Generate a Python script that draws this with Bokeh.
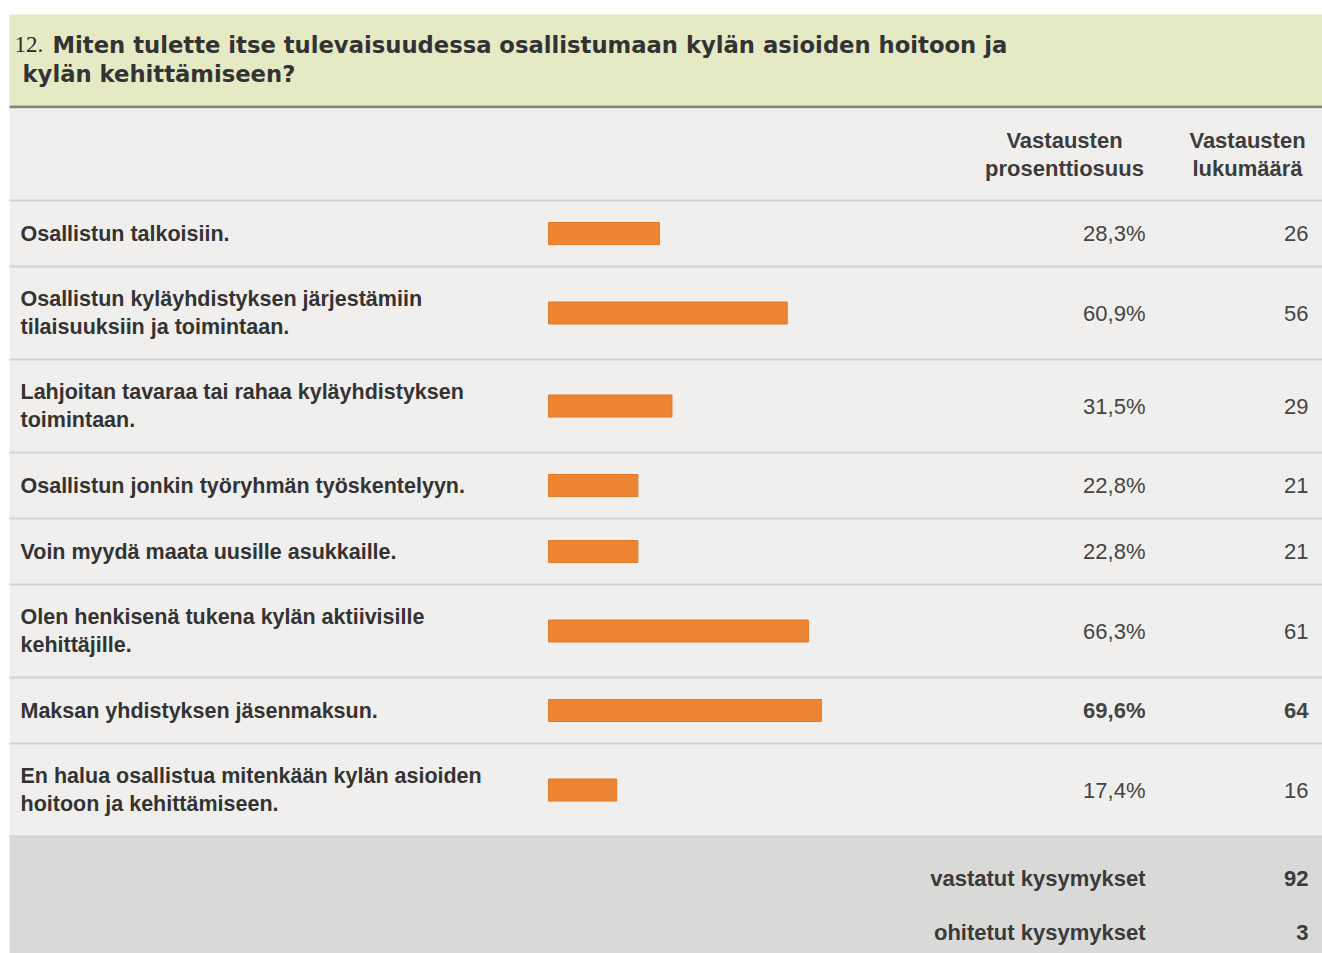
from bokeh.plotting import figure
from bokeh.models import Range1d
from bokeh.embed import file_html
from bokeh.resources import INLINE
from bokeh.core.properties import value

# ---------------- data ----------------
title_number = "12."
title_lines = ["Miten tulette itse tulevaisuudessa osallistumaan kylän asioiden hoitoon ja",
               "kylän kehittämiseen?"]
col_headers = ["Vastausten\nprosenttiosuus", "Vastausten\nlukumäärä"]
labels = [
    "Osallistun talkoisiin.",
    "Osallistun kyläyhdistyksen järjestämiin\ntilaisuuksiin ja toimintaan.",
    "Lahjoitan tavaraa tai rahaa kyläyhdistyksen\ntoimintaan.",
    "Osallistun jonkin työryhmän työskentelyyn.",
    "Voin myydä maata uusille asukkaille.",
    "Olen henkisenä tukena kylän aktiivisille\nkehittäjille.",
    "Maksan yhdistyksen jäsenmaksun.",
    "En halua osallistua mitenkään kylän asioiden\nhoitoon ja kehittämiseen.",
]
percents = [28.3, 60.9, 31.5, 22.8, 22.8, 66.3, 69.6, 17.4]
counts = [26, 56, 29, 21, 21, 61, 64, 16]
footer_labels = ["vastatut kysymykset", "ohitetut kysymykset"]
footer_values = [92, 3]

# ---------------- layout (page pixels) ----------------
W, H = 1322, 953
X0, X1 = 0, W
Y0, Y1 = 0, H
HEAD_TOP, HEAD_BOT = 14, 105
TABLE_TOP = 107
COLHDR_H = 93
ROW_H1, ROW_H2 = 66, 93
BAR_X0 = 548
PX_PER_PCT = 3.92
PCT_RIGHT = 1145
CNT_RIGHT = 1308
LABEL_X = 20
FONT = value("Liberation Sans")

p = figure(width=W, height=H, x_range=Range1d(X0, X1), y_range=Range1d(Y1, Y0),
           output_backend="svg", toolbar_location=None,
           x_axis_location=None, y_axis_location=None,
           min_border=0, outline_line_color=None,
           background_fill_color="white", border_fill_color="white")
p.grid.visible = False
p.extra_x_ranges = {"pct": Range1d(start=(X0 - BAR_X0) / PX_PER_PCT,
                                   end=(X1 - BAR_X0) / PX_PER_PCT)}

# row geometry derived from number of label lines
row_tops, row_bots = [], []
y = TABLE_TOP + COLHDR_H
for lab in labels:
    h = ROW_H2 if "\n" in lab else ROW_H1
    row_tops.append(y)
    row_bots.append(y + h)
    y += h
TABLE_BOT = y
row_mid = [(a + b) / 2 for a, b in zip(row_tops, row_bots)]

# backgrounds
p.quad(left=[9], right=[X1 + 10], top=[HEAD_TOP], bottom=[HEAD_BOT],
       fill_color="#e5eac4", line_color=None)
p.quad(left=[9], right=[X1 + 10], top=[HEAD_BOT], bottom=[TABLE_TOP + 1],
       fill_color="#838674", line_color=None)
p.quad(left=[9], right=[X1 + 10], top=[TABLE_TOP + 1], bottom=[TABLE_BOT],
       fill_color="#f0efee", line_color=None)
p.quad(left=[9], right=[X1 + 10], top=[TABLE_BOT], bottom=[Y1 + 10],
       fill_color="#d9d9d8", line_color=None)

# separators
seps = [TABLE_TOP + COLHDR_H] + row_bots
p.segment(x0=[9] * len(seps), x1=[X1 + 10] * len(seps), y0=seps, y1=seps,
          line_color="#d3d3d1", line_width=2)

# title
p.text(x=[14], y=[44], text=[title_number], text_font=value("Liberation Serif"),
       text_font_size="23px", text_color="#2b2b2b", text_baseline="middle")
p.text(x=[52, 22], y=[44, 73], text=title_lines, text_font=value("DejaVu Sans"),
       text_font_size="22.7px", text_font_style="bold", text_color="#333333",
       text_baseline="middle")

# column headers
p.text(x=[1064, 1247], y=[154, 154], text=col_headers, text_font=FONT,
       text_font_size="22px", text_font_style="bold", text_color="#3c3c3c",
       text_align="center", text_baseline="middle", text_line_height=1.1)

# row labels
p.text(x=[LABEL_X] * len(labels), y=row_mid, text=labels, text_font=FONT,
       text_font_size="21.5px", text_font_style="bold", text_color="#333333",
       text_baseline="middle", text_line_height=1.13)

# bars
p.hbar(y=row_mid, left=0, right=percents, height=22, x_range_name="pct",
       fill_color="#ec8432", line_color="#e47a28", line_width=1)

# values
mx = max(percents)
pct_txt = [f"{v:.1f}".replace(".", ",") + "%" for v in percents]
normal = [i for i, v in enumerate(percents) if v != mx]
bold = [i for i, v in enumerate(percents) if v == mx]
for idx, style in ((normal, "normal"), (bold, "bold")):
    p.text(x=[PCT_RIGHT] * len(idx), y=[row_mid[i] for i in idx],
           text=[pct_txt[i] for i in idx], text_font=FONT, text_font_size="22px",
           text_font_style=style, text_color="#444444", text_align="right",
           text_baseline="middle")
    p.text(x=[CNT_RIGHT] * len(idx), y=[row_mid[i] for i in idx],
           text=[str(counts[i]) for i in idx], text_font=FONT, text_font_size="22px",
           text_font_style=style, text_color="#444444", text_align="right",
           text_baseline="middle")

# footer
fy = [TABLE_BOT + 42, TABLE_BOT + 96]
p.text(x=[PCT_RIGHT] * 2, y=fy, text=footer_labels, text_font=FONT,
       text_font_size="22px", text_font_style="bold", text_color="#3a3a3a",
       text_align="right", text_baseline="middle")
p.text(x=[CNT_RIGHT] * 2, y=fy, text=[str(v) for v in footer_values], text_font=FONT,
       text_font_size="22px", text_font_style="bold", text_color="#3a3a3a",
       text_align="right", text_baseline="middle")

open("out.html", "w").write(file_html(p, INLINE))
